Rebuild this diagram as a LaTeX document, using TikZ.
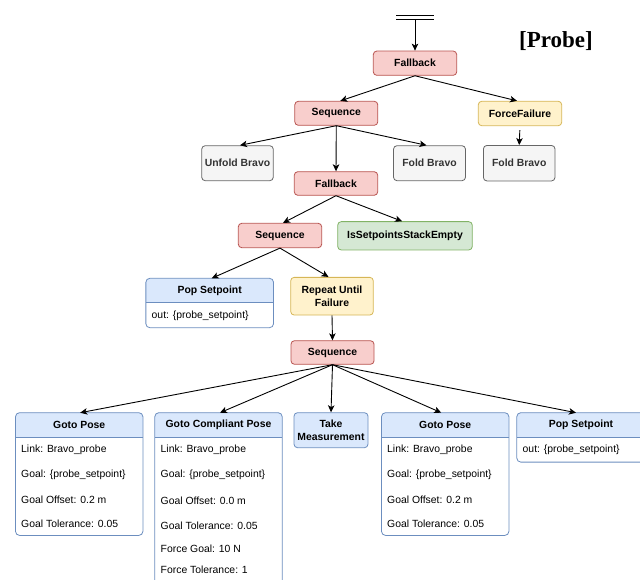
\documentclass[tikz,border=0pt]{standalone}
\usepackage{fontspec}
\setmainfont{Liberation Sans}
\newfontfamily\probefont{Liberation Serif}
\usetikzlibrary{arrows.meta,calc}
\definecolor{redfill}{HTML}{F8CECC}\definecolor{redline}{HTML}{B85450}
\definecolor{yelfill}{HTML}{FFF2CC}\definecolor{yelline}{HTML}{D6B656}
\definecolor{grnfill}{HTML}{D5E8D4}\definecolor{grnline}{HTML}{82B366}
\definecolor{gryfill}{HTML}{F5F5F5}\definecolor{gryline}{HTML}{666666}
\definecolor{grytext}{HTML}{333333}
\definecolor{blufill}{HTML}{DAE8FC}\definecolor{bluline}{HTML}{6C8EBF}
\tikzset{
  base/.style={rounded corners=3.5pt, line width=0.8pt, inner sep=0pt,
    font=\bfseries\fontsize{10.4}{13.5}\selectfont, align=center},
  rednode/.style={base, fill=redfill, draw=redline},
  yelnode/.style={base, fill=yelfill, draw=yelline},
  grnnode/.style={base, fill=grnfill, draw=grnline},
  grynode/.style={base, fill=gryfill, draw=gryline, text=grytext},
  blunode/.style={base, fill=blufill, draw=bluline},
  umlouter/.style={fill=white, draw=none, inner sep=0pt, rounded corners=4pt},
  umltitle/.style={font=\bfseries\fontsize{10.4}{13.5}\selectfont, inner sep=0pt},
  fieldtxt/.style={font=\fontsize{10.4}{12.5}\selectfont, inner sep=0pt, anchor=west},
  arr/.style={-{Stealth[length=7pt,width=6.5pt,inset=1.8pt]}, line width=0.9pt},
}
% name, cx, ytop, width, height, header height, title
\newcommand\umlbox[7]{%
  \node[umlouter, minimum width=#4pt, minimum height=#5pt, anchor=north] (#1) at (#2,#3) {};
  \fill[blufill, rounded corners=4pt] (#1.north west) rectangle ($(#1.north east)+(0,#6)$);
  \fill[blufill] ($(#1.north west)+(0,#6/2)$) rectangle ($(#1.north east)+(0,#6)$);
  \node[umltitle] (#1h) at ($(#1.north)+(0,#6/2)$) {#7};
  \draw[bluline, line width=0.8pt] ($(#1.north west)+(0,#6)$) -- ($(#1.north east)+(0,#6)$);
  \draw[bluline, line width=0.8pt, rounded corners=4pt] (#1.south west) rectangle (#1.north east);
}
\begin{document}
\begin{tikzpicture}[x=1pt,y=-1pt]
\useasboundingbox (0,0) rectangle (640,580);

% title
\node[font=\probefont\bfseries\fontsize{23}{23}\selectfont, inner sep=0pt] (title) at (556,41) {[Probe]};

% root symbol
\draw[line width=0.9pt] (396,15) -- (434,15);
\draw[line width=0.9pt] (396,19.3) -- (434,19.3);
\coordinate (root) at (415,19.3);

% tree nodes
\node[rednode, minimum width=83.4pt, minimum height=24.3pt] (fb1) at (415,63.2) {Fallback};
\node[rednode, minimum width=83pt, minimum height=24pt] (seq1) at (336.3,113.3) {Sequence};
\node[yelnode, minimum width=83.4pt, minimum height=24.5pt] (ff) at (520,113.5) {ForceFailure};
\node[grynode, minimum width=71.6pt, minimum height=35pt] (unfold) at (237.5,163.2) {Unfold Bravo};
\node[grynode, minimum width=72pt, minimum height=35pt] (fold1) at (429.5,163.2) {Fold Bravo};
\node[grynode, minimum width=71.6pt, minimum height=35.5pt] (fold2) at (519.2,163.2) {Fold Bravo};
\node[rednode, minimum width=83.4pt, minimum height=23.6pt] (fb2) at (336,183.5) {Fallback};
\node[rednode, minimum width=83.4pt, minimum height=24.4pt] (seq2) at (280,235.5) {Sequence};
\node[grnnode, minimum width=134.6pt, minimum height=28.3pt] (empty) at (405,235.8) {IsSetpointsStackEmpty};
\node[yelnode, minimum width=82.6pt, minimum height=37.7pt] (rep) at (332,296.2) {Repeat Until\\Failure};
\node[rednode, minimum width=83pt, minimum height=23.6pt] (seq3) at (332.5,352.5) {Sequence};
\node[blunode, minimum width=74pt, minimum height=35pt] (tm) at (331,430.2) {Take\\Measurement};

% UML-like boxes
\umlbox{pop1}{209.7}{278.3}{127.3}{49}{24.4}{Pop Setpoint}
\node[fieldtxt] (pop1a) at (151.5,316) {out: \{probe\_setpoint\}};

\umlbox{gp1}{79.2}{412.7}{127}{122.3}{24.3}{Goto Pose}
\node[fieldtxt] (gp1a) at (21,450) {Link: Bravo\_probe};
\node[fieldtxt] (gp1b) at (21,475) {Goal: \{probe\_setpoint\}};
\node[fieldtxt] (gp1c) at (21,499.3) {Goal Offset: 0.2 m};
\node[fieldtxt] (gp1d) at (21,523.3) {Goal Tolerance: 0.05};

\umlbox{gcp}{218.5}{412.7}{127}{177.3}{24.3}{Goto Compliant Pose}
\node[fieldtxt] (gcpa) at (160.5,450) {Link: Bravo\_probe};
\node[fieldtxt] (gcpb) at (160.5,475) {Goal: \{probe\_setpoint\}};
\node[fieldtxt] (gcpc) at (160.5,501) {Goal Offset: 0.0 m};
\node[fieldtxt] (gcpd) at (160.5,525.7) {Goal Tolerance: 0.05};
\node[fieldtxt] (gcpe) at (160.5,548.3) {Force Goal: 10 N};
\node[fieldtxt] (gcpf) at (160.5,570) {Force Tolerance: 1};

\umlbox{gp2}{445.2}{412.7}{127}{122.3}{24.3}{Goto Pose}
\node[fieldtxt] (gp2a) at (387,450) {Link: Bravo\_probe};
\node[fieldtxt] (gp2b) at (387,475) {Goal: \{probe\_setpoint\}};
\node[fieldtxt] (gp2c) at (387,499.3) {Goal Offset: 0.2 m};
\node[fieldtxt] (gp2d) at (387,523.3) {Goal Tolerance: 0.05};

\umlbox{pop2}{581}{412.7}{128}{49}{24.3}{Pop Setpoint}
\node[fieldtxt] (pop2a) at (522.5,450) {out: \{probe\_setpoint\}};

% connectors
\draw[arr] (root) -- (fb1.north);
\draw[arr] (fb1.south) -- ([xshift=4pt]seq1.north);
\draw[arr] (fb1.south) -- ([xshift=-3pt]ff.north);
\draw[arr] (seq1.south) -- ([xshift=2.5pt]unfold.north);
\draw[arr] (seq1.south) -- (fb2.north);
\draw[arr] (seq1.south) -- ([xshift=-3pt]fold1.north);
\draw[arr, shorten <=4pt] (ff.south) -- (fold2.north);
\draw[arr] (fb2.south) -- ([xshift=3pt]seq2.north);
\draw[arr] (fb2.south) -- ([xshift=-3pt]empty.north);
\draw[arr] (seq2.south) -- ([xshift=2pt]pop1.north);
\draw[arr] (seq2.south) -- ([xshift=-3.5pt]rep.north);
\draw[arr] (rep.south) -- (seq3.north);
\draw[arr] (seq3.south) -- ([xshift=1pt]gp1.north);
\draw[arr] (seq3.south) -- ([xshift=1.5pt]gcp.north);
\draw[arr] (seq3.south) -- (tm.north);
\draw[arr] (seq3.south) -- ([xshift=-4pt]gp2.north);
\draw[arr] (seq3.south) -- ([xshift=-5pt]pop2.north);
\end{tikzpicture}
\end{document}
